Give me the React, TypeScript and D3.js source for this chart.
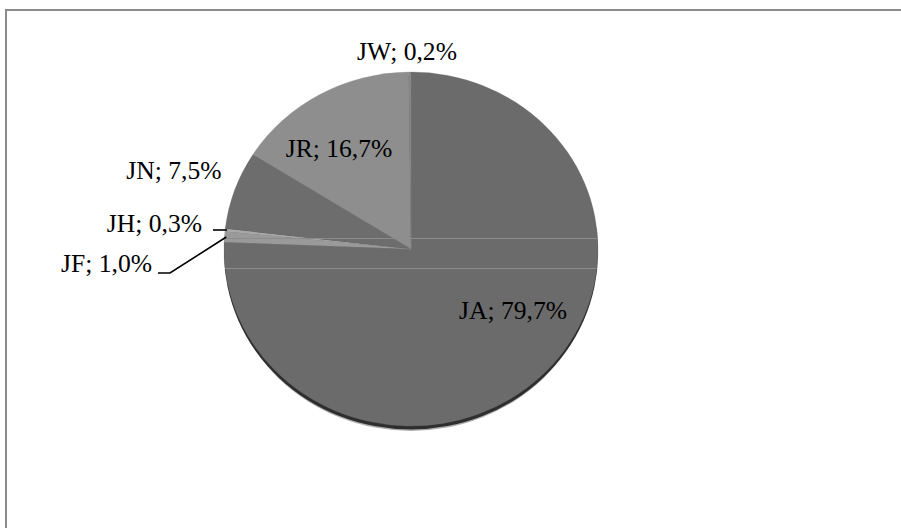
import React from "react";
import * as d3 from "d3";

const categories = ["JA", "JF", "JH", "JN", "JR", "JW"];
const values = [79.7, 1.0, 0.3, 7.5, 16.7, 0.2];
const labels = ["JA; 79,7%", "JF; 1,0%", "JH; 0,3%", "JN; 7,5%", "JR; 16,7%", "JW; 0,2%"];
const colors = ["#6b6b6b", "#9a9a9a", "#a8a8a8", "#6d6d6d", "#8e8e8e", "#888888"];

// label layout (text anchor point, anchor type)
const labelLayout = [
  { x: 513, y: 319, anchor: "middle" },
  { x: 152, y: 272, anchor: "end" },
  { x: 202, y: 232, anchor: "end" },
  { x: 174, y: 179, anchor: "middle" },
  { x: 339, y: 157, anchor: "middle" },
  { x: 407, y: 60, anchor: "middle" },
];

const W = 901;
const H = 528;
const cx = 411;
const cy = 249;
const rx = 187;
const ry = 177;

export default function App() {
  const data = categories.map((c, i) => ({ c, v: values[i], i }));
  const pie = d3.pie<any>().sort(null).value((d) => d.v).startAngle(0).endAngle(2 * Math.PI);
  const arcs = pie(data);
  const arc = d3.arc<any>().innerRadius(0).outerRadius(ry);
  const sx = rx / ry;

  // leader line endpoints computed on ellipse edge at slice mid-angle
  const edge = (a: number, k = 1) => [cx + rx * k * Math.sin(a), cy - ry * k * Math.cos(a)];
  const aJF = (arcs[1].startAngle + arcs[1].endAngle) / 2;
  const aJH = (arcs[2].startAngle + arcs[2].endAngle) / 2;
  const eJF = edge(aJF, 0.99);
  const eJH = edge(aJH, 0.99);

  return (
    <svg width={W} height={H} style={{ position: "absolute", left: 0, top: 0, background: "#fff" }}
      fontFamily="'Liberation Serif', 'Times New Roman', serif">
      <rect x={6} y={10} width={W + 10} height={H + 10} fill="#fff" stroke="#8a8a8a" strokeWidth={2} />
      <defs>
        <clipPath id="pieClip">
          <ellipse cx={cx} cy={cy} rx={rx} ry={ry} />
        </clipPath>
      </defs>
      {/* 3D rim */}
      <ellipse cx={cx} cy={cy + 5} rx={rx - 1} ry={ry} fill="#b0b0b0" />
      <ellipse cx={cx} cy={cy + 3.5} rx={rx} ry={ry} fill="#2e2e2e" />
      <g transform={`translate(${cx},${cy}) scale(${sx},1)`}>
        {arcs.map((a, i) => (
          <path key={i} d={arc(a) as string} fill={colors[i]} stroke={colors[i]} strokeWidth={0.3} />
        ))}
      </g>
      <g clipPath="url(#pieClip)">
        <line x1={cx - rx} x2={cx + rx} y1={238.5} y2={238.5} stroke="#8c8c8c" strokeWidth={1} />
        <line x1={cx - rx} x2={cx + rx} y1={268.5} y2={268.5} stroke="#8c8c8c" strokeWidth={1} />
      </g>
      {/* leader lines */}
      <polyline points={`${labelLayout[2].x + 11},230 ${eJH[0]},230`} fill="none" stroke="#000" strokeWidth={1.6} />
      <polyline points={`${labelLayout[1].x + 6},273 ${labelLayout[1].x + 18},273 ${eJF[0]},${eJF[1]}`} fill="none" stroke="#000" strokeWidth={1.6} />
      {labels.map((t, i) => (
        <text key={i} x={labelLayout[i].x} y={labelLayout[i].y} textAnchor={labelLayout[i].anchor as any}
          fontSize={25.6} fill="#000">{t}</text>
      ))}
    </svg>
  );
}
